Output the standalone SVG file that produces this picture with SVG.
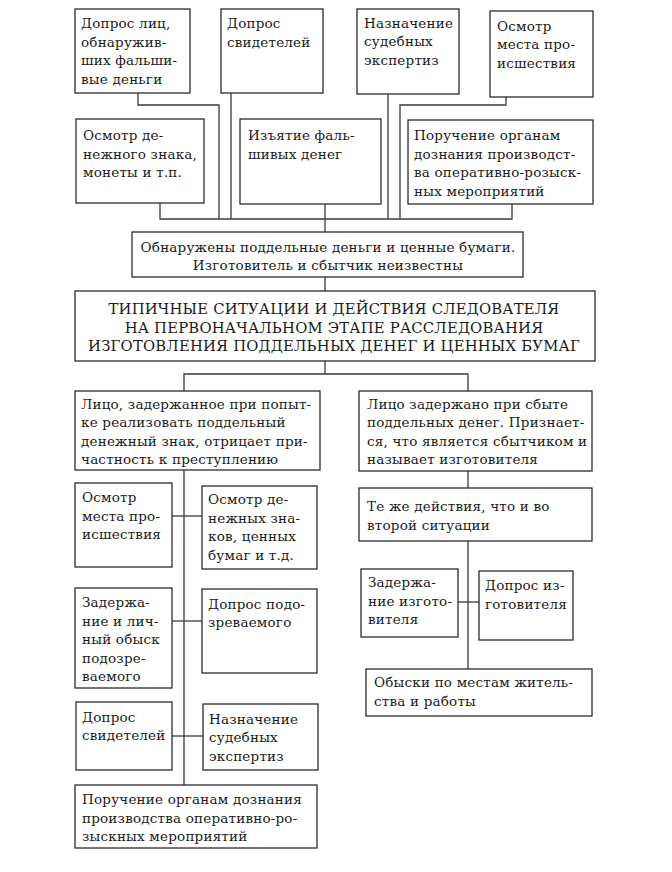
<svg xmlns="http://www.w3.org/2000/svg" width="672" height="872" viewBox="0 0 672 872">
<style>
rect{fill:#fff;stroke:#2b2b2b;stroke-width:1.3}
text{font-family:'DejaVu Serif',serif;font-size:13.5px;letter-spacing:0.2px;fill:#1a1a1a}
.c{text-anchor:middle}
.h{font-size:14.8px}
#connectors path{fill:none;stroke:#3a3a3a;stroke-width:1.3}
</style>
<rect x="0" y="0" width="672" height="872" style="stroke:none"/>
<g id="connectors">
<path d="M138 93V105H219V219"/>
<path d="M231 93V219"/>
<path d="M388 94V219"/>
<path d="M506 97V105H400V219"/>
<path d="M160 203V219H512V204"/>
<path d="M325 204V232"/>
<path d="M325 277V291"/>
<path d="M325 361V374"/>
<path d="M184 391V374H468V391"/>
<path d="M184 470V785"/>
<path d="M172 516H202"/>
<path d="M172 621H202"/>
<path d="M172 736H203"/>
<path d="M468 471V488"/>
<path d="M468 541V669"/>
<path d="M458 602H479"/>
</g>
<g id="n1"><rect x="75" y="9" width="115" height="84"/>
<text x="81" y="28">Допрос лиц,</text><text x="81" y="46.5">обнаружив-</text><text x="81" y="65">ших фальши-</text><text x="81" y="83.5">вые деньги</text></g>
<g id="n2"><rect x="221" y="9" width="102" height="84"/>
<text x="227" y="28">Допрос</text><text x="227" y="46.5">свидетелей</text></g>
<g id="n3"><rect x="357" y="9" width="102" height="85"/>
<text x="364" y="27.5">Назначение</text><text x="364" y="46">судебных</text><text x="364" y="64.5">экспертиз</text></g>
<g id="n4"><rect x="490" y="11" width="103" height="86"/>
<text x="497" y="30.5">Осмотр</text><text x="497" y="49">места про-</text><text x="497" y="67.5">исшествия</text></g>
<g id="n5"><rect x="76" y="119" width="128" height="84"/>
<text x="83" y="140">Осмотр де-</text><text x="83" y="158.5">нежного знака,</text><text x="83" y="177">монеты и т.п.</text></g>
<g id="n6"><rect x="240" y="119" width="141" height="85"/>
<text x="248" y="140">Изъятие фаль-</text><text x="248" y="158.5">шивых денег</text></g>
<g id="n7"><rect x="408" y="120" width="185" height="84"/>
<text x="414" y="140">Поручение органам</text><text x="414" y="158.5">дознания производст-</text><text x="414" y="177">ва оперативно-розыск-</text><text x="414" y="195.5">ных мероприятий</text></g>
<g id="n8"><rect x="132" y="232" width="391" height="45"/>
<text class="c" x="328" y="251.5">Обнаружены поддельные деньги и ценные бумаги.</text><text class="c" x="328" y="270">Изготовитель и сбытчик неизвестны</text></g>
<g id="n9"><rect x="75" y="291" width="520" height="70"/>
<text class="c h" x="334" y="314">ТИПИЧНЫЕ СИТУАЦИИ И ДЕЙСТВИЯ СЛЕДОВАТЕЛЯ</text><text class="c h" x="334" y="332.5">НА ПЕРВОНАЧАЛЬНОМ ЭТАПЕ РАССЛЕДОВАНИЯ</text><text class="c h" x="334" y="351">ИЗГОТОВЛЕНИЯ ПОДДЕЛЬНЫХ ДЕНЕГ И ЦЕННЫХ БУМАГ</text></g>
<g id="n10"><rect x="75" y="391" width="245" height="79"/>
<text x="81" y="408.5">Лицо, задержанное при попыт-</text><text x="81" y="427">ке реализовать поддельный</text><text x="81" y="445.5">денежный знак, отрицает при-</text><text x="81" y="464">частность к преступлению</text></g>
<g id="n11"><rect x="75" y="483" width="97" height="84"/>
<text x="82" y="502">Осмотр</text><text x="82" y="520.5">места про-</text><text x="82" y="539">исшествия</text></g>
<g id="n12"><rect x="202" y="486" width="115" height="83"/>
<text x="208" y="504">Осмотр де-</text><text x="208" y="522.5">нежных зна-</text><text x="208" y="541">ков, ценных</text><text x="208" y="559.5">бумаг и т.д.</text></g>
<g id="n13"><rect x="75" y="588" width="97" height="100"/>
<text x="82" y="607">Задержа-</text><text x="82" y="625.5">ние и лич-</text><text x="82" y="644">ный обыск</text><text x="82" y="662.5">подозре-</text><text x="82" y="681">ваемого</text></g>
<g id="n14"><rect x="202" y="589" width="115" height="84"/>
<text x="208" y="608.5">Допрос подо-</text><text x="208" y="627">зреваемого</text></g>
<g id="n15"><rect x="76" y="702" width="96" height="68"/>
<text x="82" y="721.5">Допрос</text><text x="82" y="740">свидетелей</text></g>
<g id="n16"><rect x="203" y="704" width="115" height="66"/>
<text x="209" y="723.5">Назначение</text><text x="209" y="742">судебных</text><text x="209" y="760.5">экспертиз</text></g>
<g id="n17"><rect x="75" y="785" width="242" height="63"/>
<text x="82" y="804">Поручение органам дознания</text><text x="82" y="822.5">производства оперативно-ро-</text><text x="82" y="841">зыскных мероприятий</text></g>
<g id="n18"><rect x="359" y="391" width="233" height="80"/>
<text x="367" y="408.5">Лицо задержано при сбыте</text><text x="367" y="427">поддельных денег. Признает-</text><text x="367" y="445.5">ся, что является сбытчиком и</text><text x="367" y="464">называет изготовителя</text></g>
<g id="n19"><rect x="359" y="488" width="233" height="53"/>
<text x="367" y="511">Те же действия, что и во</text><text x="367" y="529.5">второй ситуации</text></g>
<g id="n20"><rect x="361" y="569" width="97" height="68"/>
<text x="368" y="587">Задержа-</text><text x="368" y="605.5">ние изгото-</text><text x="368" y="624">вителя</text></g>
<g id="n21"><rect x="479" y="571" width="94" height="69"/>
<text x="485" y="590">Допрос из-</text><text x="485" y="608.5">готовителя</text></g>
<g id="n22"><rect x="366" y="669" width="226" height="47"/>
<text x="374" y="687">Обыски по местам житель-</text><text x="374" y="705.5">ства и работы</text></g>
</svg>
